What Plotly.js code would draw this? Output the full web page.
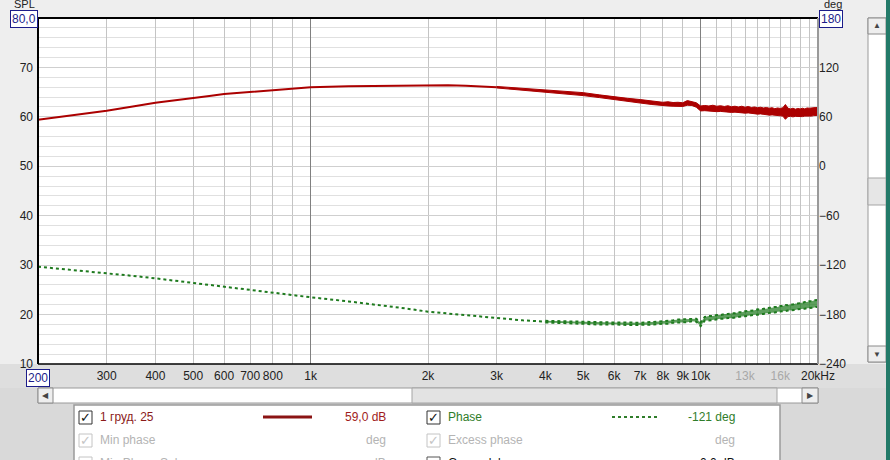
<!DOCTYPE html>
<html><head><meta charset="utf-8">
<script src="https://cdn.plot.ly/plotly-3.0.1.min.js"></script>
<style>html,body{margin:0;padding:0;background:#eeeeee;overflow:hidden}#chart{width:890px;height:460px}</style>
</head><body><div id="chart"></div>
<script>
// ---- data ----
// SPL, low-frequency part (clean line)
const splFreq = [200,225,250,275,300,350,400,450,500,550,600,700,800,900,1000,1250,1500,1750,2000,2250,2500,2750,3000];
const splDb   = [59.4,59.9,60.4,60.85,61.25,62.1,62.87,63.35,63.75,64.2,64.62,65.03,65.37,65.7,65.98,66.2,66.3,66.4,66.45,66.4,66.3,66.15,66.0];
// SPL, high-frequency noisy band (upper / lower edge)
const splHiFreq = [3000,3500,4000,4500,5000,5500,6000,6500,7000,7500,8000,8250,8500,8750,9000,9250,9500,9750,
 10000,10250,10500,10750,11000,11250,11500,11750,12000,12250,12500,12750,13000,13250,13500,13750,14000,14250,14500,14750,
 15000,15250,15500,15750,16000,16250,16500,16750,17000,17250,17500,17750,18000,18250,18500,18750,19000,19250,19500,19750,20000];
const splHiUpper = [66.15,65.8,65.5,65.2,64.9,64.45,64.05,63.75,63.5,63.15,62.95,63.05,62.9,62.95,62.85,63.3,63.15,62.85,
 62.2,62.3,62.2,62.35,62.15,62.25,62.1,62.25,62.05,62.15,62.0,62.15,61.95,62.1,61.9,62.0,61.85,61.95,61.8,61.9,
 61.75,61.85,61.65,61.8,61.7,61.85,62.5,61.75,61.6,61.75,61.55,61.7,61.6,61.75,61.6,61.8,61.75,61.85,61.8,61.9,61.85];
const splHiLower = [65.85,65.4,65.05,64.7,64.3,63.9,63.45,63.1,62.8,62.5,62.2,62.2,62.15,62.05,62.1,62.35,62.3,61.95,
 61.2,61.25,61.15,61.2,61.05,61.1,61.0,61.05,60.9,60.95,60.85,60.9,60.75,60.8,60.7,60.7,60.55,60.6,60.5,60.5,
 60.35,60.4,60.3,60.3,60.15,60.15,59.5,60.05,60.1,60.0,60.1,60.05,60.1,60.05,60.15,60.1,60.2,60.15,60.25,60.2,60.3];

// Phase, low-frequency part (clean dotted line)
const phaseFreq = [200,250,300,350,400,450,500,600,700,800,900,1000,1250,1500,1750,2000,2250,2500,2750,3000,3500,4000];
const phaseDeg  = [-121.9,-126,-130,-133,-136,-139,-142,-146,-150,-153.5,-156.6,-159,-164,-168.4,-172.5,-176.5,-178.8,-181,-183,-184.6,-187,-188.6];
// Phase, high-frequency noisy band (upper / lower edge)
const phaseHiFreq = [4000,4500,5000,5500,6000,6500,7000,7500,8000,8250,8500,8750,9000,9250,9500,9750,
 10000,10250,10500,10750,11000,11250,11500,11750,12000,12250,12500,12750,13000,13250,13500,13750,14000,14250,14500,14750,
 15000,15250,15500,15750,16000,16250,16500,16750,17000,17250,17500,17750,18000,18250,18500,18750,19000,19250,19500,19750,20000];
const phaseHiUpper = [-187.6,-188.3,-189.2,-189.2,-189.6,-189.5,-190.0,-189.0,-188.3,-187.5,-187.0,-186.0,-185.8,-184.8,-185.0,-185.0,
 -189.5,-182.8,-181.8,-181.6,-180.5,-180.6,-179.4,-179.4,-178.3,-178.3,-177.1,-177.2,-176.0,-175.9,-174.9,-174.9,-173.7,-173.9,-172.8,-172.8,
 -171.7,-171.8,-170.7,-170.8,-169.6,-169.7,-168.5,-168.7,-167.6,-167.8,-166.6,-166.7,-165.8,-165.8,-164.7,-164.8,-163.7,-163.8,-162.8,-162.9,-162.2];
const phaseHiLower = [-189.6,-190.9,-191.2,-192.1,-191.8,-192.7,-192.6,-192.3,-191.1,-191.0,-189.9,-189.8,-188.9,-189.2,-188.2,-188.6,
 -194.0,-187.3,-187.3,-186.4,-186.3,-185.2,-185.2,-184.2,-184.4,-183.4,-183.2,-182.2,-182.1,-181.2,-181.2,-180.2,-180.1,-179.2,-179.2,-178.4,
 -178.3,-177.4,-177.5,-176.6,-176.6,-175.8,-175.8,-175.1,-175.0,-174.3,-174.3,-173.6,-173.6,-172.9,-172.9,-172.2,-172.2,-171.5,-171.6,-170.8,-170.8];

const xGridVals = [200,300,400,500,600,700,800,900,1000,2000,3000,4000,5000,6000,7000,8000,9000,10000,
 11000,12000,13000,14000,15000,16000,17000,18000,19000,20000];
const xTickText = ['','300','400','500','600','700','800','','1k','2k','3k','4k','5k','6k','7k','8k','9k','10k',
 '','','<span style="color:#a8a8a8">13k</span>','','','<span style="color:#a8a8a8">16k</span>','','','','20kHz'];
const xMajorVals = [1000,10000];
const splTickVals = [10,20,30,40,50,60,70];
const phaseTickVals = [-240,-180,-120,-60,0,60,120];

const legendRows = [
  {left:'1 груд. 25', leftVal:'59,0 dB', right:'Phase', rightVal:'-121 deg'},
  {left:'Min phase', leftVal:'deg', right:'Excess phase', rightVal:'deg'},
  {left:'Min Phase Sub', leftVal:'dB', right:'Group delay', rightVal:'0,0 dB'}
];

// ---- layout helpers (pixel -> paper) ----
const L=38,R=818,T=18,B=364;
const px = x => (x-L)/(R-L);
const py = y => (B-y)/(B-T);
const FONT = 'Liberation Sans, Arial, sans-serif';

const shapes = [];
const ann = [];
function rect(x0,y0,x1,y1,fill,line,lw){shapes.push({type:'rect',xref:'paper',yref:'paper',x0:px(x0),x1:px(x1),y0:py(y1),y1:py(y0),fillcolor:fill,line:{color:line||'rgba(0,0,0,0)',width:lw===undefined?1:lw},layer:'below'});}
function rectAbove(x0,y0,x1,y1,fill,line,lw){shapes.push({type:'rect',xref:'paper',yref:'paper',x0:px(x0),x1:px(x1),y0:py(y1),y1:py(y0),fillcolor:fill,line:{color:line||'rgba(0,0,0,0)',width:lw===undefined?1:lw},layer:'above'});}
function seg(x0,y0,x1,y1,color,w,dash){shapes.push({type:'line',xref:'paper',yref:'paper',x0:px(x0),x1:px(x1),y0:py(y0),y1:py(y1),line:{color:color,width:w,dash:dash||'solid'},layer:'above'});}
function text(x,y,t,color,size,xa,extra){ann.push(Object.assign({xref:'paper',yref:'paper',x:px(x),y:py(y),text:t,showarrow:false,xanchor:xa||'left',yanchor:'middle',font:{family:FONT,size:size||12,color:color||'#222'}},extra||{}));}

// backgrounds
rect(0,364,890,388,'#dedede');
rect(0,388,890,460,'#d9d9d9');
// plot frame
seg(38,18,818,18,'#000',2); seg(38,18,38,364,'#000',2); seg(38,364,818,364,'#000',1.5); seg(818,18,818,364,'#9a9a9a',2);
// horizontal scrollbar
rectAbove(38,388,818,403,'#ffffff','#9a9a9a',1);
rectAbove(412,388,777,403,'#e3e3e3','#a5a5a5',1);
rectAbove(38,388,53,403,'#eeeeee','#8a8a8a',1);
rectAbove(802,388,818,403,'#eeeeee','#8a8a8a',1);
text(45.5,395.5,'◀','#444',8,'center');
text(810,395.5,'▶','#444',8,'center');
// vertical scrollbar
rectAbove(868,18,886,362,'#ffffff','#9a9a9a',1);
rectAbove(868,178,886,205,'#e6e6e6','#a5a5a5',1);
rectAbove(868,18,886,34,'#eeeeee','#8a8a8a',1);
rectAbove(868,346,886,362,'#eeeeee','#8a8a8a',1);
text(877,26,'▲','#444',8,'center');
text(877,354,'▼','#444',8,'center');
rectAbove(886,0,890,460,'#237a69');
// legend panel
rectAbove(74,405,780,475,'#ffffff','#9a9a9a',1.5);
const rowY=[417,440,463];
const lcol=[['#8b1a1a','#a01c1c'],['#b4b4b4','#b4b4b4'],['#b4b4b4','#b4b4b4']];
const rcol=[['#2f7d2a','#2f7d2a'],['#b4b4b4','#b4b4b4'],['#111','#111']];
const boxCol=[['#333','#333'],['#c4c4c4','#c4c4c4'],['#c4c4c4','#555']];
const checked=[[true,true],[true,true],[false,false]];
legendRows.forEach((r,i)=>{
  const y=rowY[i];
  rectAbove(79,y-6,92,y+7,'#ffffff',boxCol[i][0],1);
  rectAbove(427,y-6,440,y+7,'#ffffff',boxCol[i][1],1);
  if(checked[i][0]) text(85.5,y,'✓',boxCol[i][0]==='#333'?'#111':'#c4c4c4',13,'center');
  if(checked[i][1]) text(433.5,y,'✓',boxCol[i][1]==='#333'?'#111':'#c4c4c4',13,'center');
  text(98,y,r.left,lcol[i][0],12,'left');
  text(388,y,r.leftVal,lcol[i][1],12,'right');
  text(446,y,r.right,rcol[i][0],12,'left');
  text(737,y,r.rightVal,rcol[i][1],12,'right');
});
seg(263,417,312,417,'#8b1414',3);
seg(612,417,658,417,'#2f7d2a',2,'dot');
// boxed range labels & axis titles
const box = {bgcolor:'#ffffff',bordercolor:'#1c1c8a',borderwidth:1,borderpad:1};
text(24,19,'80,0','#1c1c8a',12,'center',box);
text(831,19,'180','#1c1c8a',12,'center',box);
text(38,378,'200','#1c1c8a',12,'center',box);
text(12,4,'SPL','#222',11,'left');
text(822,4,'deg','#222',11,'left');

const RED='#ab0000', GREEN='#1e7a1e';
const traces = [
  {x:splFreq,y:splDb,type:'scatter',mode:'lines',line:{color:RED,width:2},xaxis:'x',yaxis:'y',hoverinfo:'skip'},
  {x:splHiFreq,y:splHiUpper,type:'scatter',mode:'lines',line:{color:RED,width:1},xaxis:'x',yaxis:'y',hoverinfo:'skip'},
  {x:splHiFreq,y:splHiLower,type:'scatter',mode:'lines',line:{color:RED,width:1},fill:'tonexty',fillcolor:RED,xaxis:'x',yaxis:'y',hoverinfo:'skip'},
  {x:phaseFreq,y:phaseDeg,type:'scatter',mode:'lines',line:{color:GREEN,width:2,dash:'dot'},xaxis:'x2',yaxis:'y2',hoverinfo:'skip'},
  {x:phaseHiFreq,y:phaseHiUpper,type:'scatter',mode:'lines',line:{color:GREEN,width:2,dash:'dot'},xaxis:'x2',yaxis:'y2',hoverinfo:'skip'},
  {x:phaseHiFreq,y:phaseHiLower,type:'scatter',mode:'lines',line:{color:GREEN,width:2,dash:'dot'},fill:'tonexty',fillcolor:'rgba(30,122,30,0.72)',xaxis:'x2',yaxis:'y2',hoverinfo:'skip'}
];
const xr=[Math.log10(200),Math.log10(20000)];
const layout = {
  width:890,height:460,margin:{l:L,r:890-R,t:T,b:460-B,pad:0},
  paper_bgcolor:'#eeeeee',plot_bgcolor:'#ffffff',showlegend:false,
  font:{family:FONT,size:12,color:'#222'},
  xaxis:{type:'log',range:xr,tickmode:'array',tickvals:xGridVals,ticktext:xTickText,tickangle:0,ticklabelstandoff:3,showgrid:true,gridcolor:'#c4c4c4',gridwidth:1,
    zeroline:false,showline:false,ticks:'',tickfont:{family:FONT,size:12,color:'#222'},fixedrange:true},
  xaxis2:{type:'log',range:xr,overlaying:'x',anchor:'y2',side:'bottom',tickmode:'array',tickvals:xMajorVals,showticklabels:false,
    showgrid:true,gridcolor:'#808080',gridwidth:1,zeroline:false,showline:false,ticks:'',fixedrange:true},
  yaxis:{range:[10,80],tickmode:'array',tickvals:splTickVals,ticklabelstandoff:4,showgrid:true,gridcolor:'#cfcfcf',zeroline:false,showline:false,ticks:'',
    minor:{tickmode:'linear',tick0:10,dtick:2,showgrid:true,gridcolor:'#e0e0e0',ticks:''},
    tickfont:{family:FONT,size:12,color:'#222'},fixedrange:true},
  yaxis2:{range:[-240,180],overlaying:'y',anchor:'x2',side:'right',tickmode:'array',tickvals:phaseTickVals,showgrid:false,zeroline:false,
    showline:false,ticks:'',tickfont:{family:FONT,size:12,color:'#222'},fixedrange:true},
  shapes:shapes,annotations:ann
};
Plotly.newPlot('chart',traces,layout,{staticPlot:true,displayModeBar:false});
</script></body></html>
